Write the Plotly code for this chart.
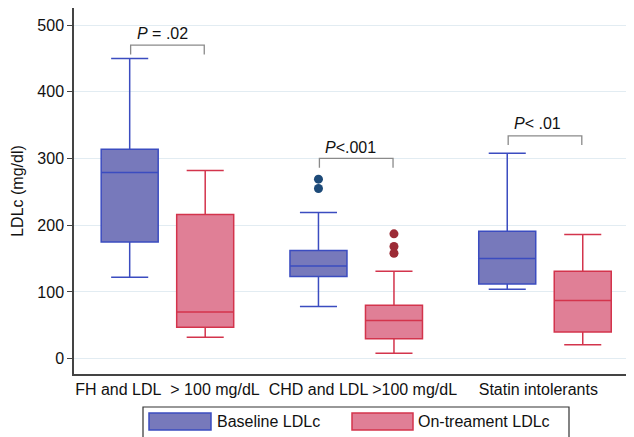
import plotly.graph_objects as go

categories = ["FH and LDL\u00a0\u00a0> 100 mg/dL",
              "\u00a0\u00a0\u00a0CHD and LDL >100 mg/dL",
              "Statin intolerants\u00a0\u00a0\u00a0"]
series_names = ["Baseline LDLc", "On-treament LDLc"]

base_lower = [122, 78, 104]
base_q1 = [175, 123, 112]
base_median = [279, 139, 150]
base_q3 = [314, 162, 191]
base_upper = [450, 219, 308]

on_lower = [32, 8, 21]
on_q1 = [47, 30, 40]
on_median = [70, 57, 87]
on_q3 = [216, 80, 131]
on_upper = [282, 131, 186]

base_out_group = [1, 1]
base_out_vals = [269, 255]
on_out_group = [1, 1, 1]
on_out_vals = [187, 168, 158]

bracket_top = [470, 300, 334]
bracket_leg = [456, 286, 320]
p_labels = ["<i>P</i> = .02", "<i>P</i><.001", "<i>P</i>< .01"]
p_label_y = [487, 316, 352]

tick_vals = [0, 100, 200, 300, 400, 500]

OFF = 0.2
BW = 0.302
FONT = "Liberation Sans, Arial, Helvetica, sans-serif"

base_fill = "#7779bb"
base_line = "#3b4cc0"
on_fill = "#e07f96"
on_line = "#d3344c"

idx = list(range(len(categories)))
fig = go.Figure()

fig.add_trace(go.Box(
    name=series_names[0], x=[i - OFF for i in idx],
    q1=base_q1, median=base_median, q3=base_q3,
    lowerfence=base_lower, upperfence=base_upper,
    fillcolor=base_fill, line=dict(color=base_line, width=1.5),
    width=BW, whiskerwidth=0.65, boxpoints=False, showlegend=False))
fig.add_trace(go.Box(
    name=series_names[1], x=[i + OFF for i in idx],
    q1=on_q1, median=on_median, q3=on_q3,
    lowerfence=on_lower, upperfence=on_upper,
    fillcolor=on_fill, line=dict(color=on_line, width=1.5),
    width=BW, whiskerwidth=0.65, boxpoints=False, showlegend=False))

fig.add_trace(go.Scatter(
    x=[g - OFF for g in base_out_group], y=base_out_vals, mode="markers",
    marker=dict(color="#1d4a78", size=9), showlegend=False, hoverinfo="y"))
fig.add_trace(go.Scatter(
    x=[g + OFF for g in on_out_group], y=on_out_vals, mode="markers",
    marker=dict(color="#9c2b36", size=9), showlegend=False, hoverinfo="y"))

for i in idx:
    fig.add_trace(go.Scatter(
        x=[i - 0.195, i - 0.195, i + 0.195, i + 0.195],
        y=[bracket_leg[i], bracket_top[i], bracket_top[i], bracket_leg[i]],
        mode="lines", line=dict(color="#8a8a8a", width=1.3),
        showlegend=False, hoverinfo="skip"))
    fig.add_annotation(x=i - 0.195, y=p_label_y[i], text=p_labels[i],
                       showarrow=False, xanchor="left", yanchor="middle",
                       xshift=4, font=dict(size=16, color="#111", family=FONT))

# manual legend (page pixel -> paper: xp=(px-74)/560, yp=(374-py)/366)
def px(v):
    return (v - 74) / 560

def py(v):
    return (374 - v) / 366

fig.add_shape(type="rect", xref="paper", yref="paper",
              x0=px(143), x1=px(569), y0=py(407), y1=py(442),
              line=dict(color="#333", width=1.2), fillcolor="white")
fig.add_shape(type="rect", xref="paper", yref="paper",
              x0=px(149), x1=px(211), y0=py(413), y1=py(430),
              line=dict(color=base_line, width=1.5), fillcolor=base_fill)
fig.add_shape(type="rect", xref="paper", yref="paper",
              x0=px(352), x1=px(413), y0=py(413), y1=py(430),
              line=dict(color=on_line, width=1.5), fillcolor=on_fill)
fig.add_annotation(xref="paper", yref="paper", x=px(215), y=py(421.5),
                   text=series_names[0], showarrow=False, xanchor="left",
                   yanchor="middle", font=dict(size=16, color="#111", family=FONT))
fig.add_annotation(xref="paper", yref="paper", x=px(416), y=py(421.5),
                   text=series_names[1], showarrow=False, xanchor="left",
                   yanchor="middle", font=dict(size=16, color="#111", family=FONT))

# page has an 8px body margin: figure origin sits at (8, 8)
fig.update_layout(
    width=626, height=429,
    margin=dict(l=66, r=0, t=0, b=63, autoexpand=False),
    paper_bgcolor="white", plot_bgcolor="white",
    font=dict(family=FONT, size=16, color="#111"),
    showlegend=False,
    xaxis=dict(range=[-0.495, 2.4715], tickvals=idx, ticktext=categories,
               showgrid=False, zeroline=False, showline=True, tickangle=0,
               linecolor="#444", linewidth=1.5, ticks="", automargin=False,
               tickfont=dict(size=16, family=FONT)),
    yaxis=dict(range=[-23, 525.5], tickvals=tick_vals,
               showgrid=True, gridcolor="#e2ecf2", gridwidth=1,
               zeroline=False, showline=True, linecolor="#444", linewidth=1.5,
               ticks="outside", ticklen=5, tickcolor="#444", automargin=False,
               tickfont=dict(size=16, family=FONT),
               title=dict(text="LDLc (mg/dl)", font=dict(size=16, family=FONT),
                          standoff=10)),
)

fig.write_html("out.html")
